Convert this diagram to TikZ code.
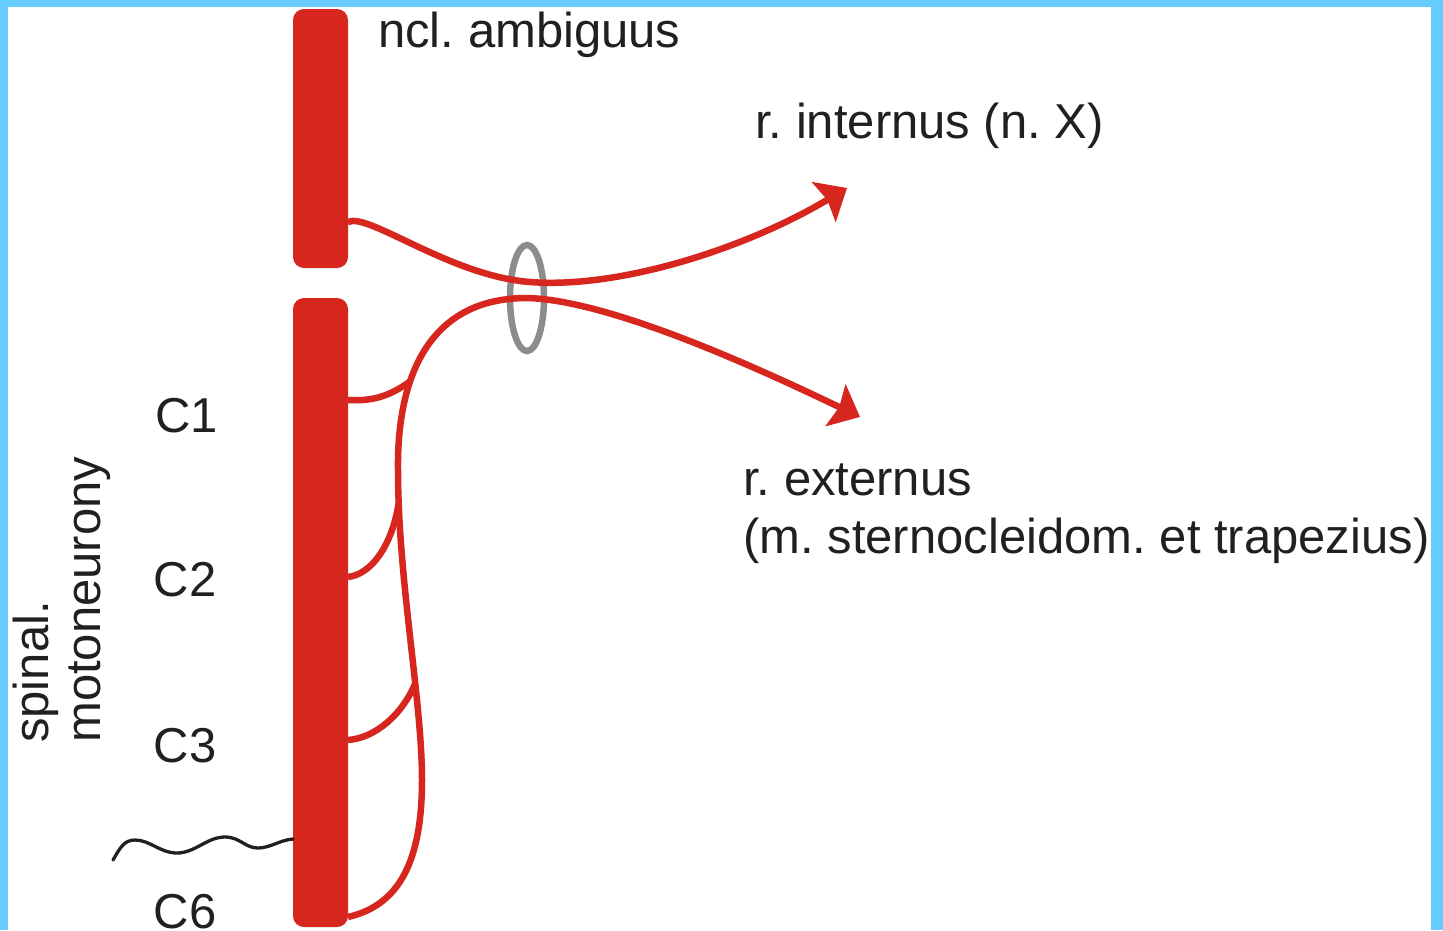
\documentclass[tikz,border=0pt]{standalone}
\usepackage{fontspec}
\setmainfont{Liberation Sans}
\usetikzlibrary{arrows.meta,shapes.geometric}
\definecolor{nred}{HTML}{D7261E}
\definecolor{frameblue}{HTML}{66CCFF}
\definecolor{ringgray}{HTML}{8C8C8C}
\definecolor{txt}{HTML}{231F20}
\frenchspacing
\begin{document}
\begin{tikzpicture}[x=1pt,y=-1pt,
 bar/.style={fill=nred, rounded corners=11pt, minimum width=55pt, inner sep=0pt, draw=none},
 nerve/.style={draw=nred, line width=6.5pt},
 nervearrow/.style={nerve, -{Stealth[length=27pt,width=46pt,inset=4pt]}},
 ringst/.style={ellipse, draw=ringgray, line width=6.5pt, minimum width=34pt, minimum height=106pt, inner sep=0pt},
 lbl/.style={text=txt, font=\fontsize{49}{56}\selectfont, inner sep=0pt},
 wave/.style={draw=txt, line width=3.3pt, line cap=round}]

\useasboundingbox (0,0) rectangle (1443,930);
\fill[white] (0,0) rectangle (1443,930);

% bars
\node[bar, minimum height=259pt] (amb) at (320.5,138.5) {};
\node[bar, minimum height=629pt] (spin) at (320.5,612.5) {};

% ring
\node[ringst] (ring) at (527,298) {};

% coordinates
\coordinate (a1) at (348,222);
\coordinate (ra) at (530,282);
\coordinate (tipI) at (847,188);
\coordinate (c6) at (348,917);
\coordinate (m1) at (422,780);
\coordinate (m2) at (398,470);
\coordinate (rb) at (527,298);
\coordinate (tipE) at (860,417);
\coordinate (b1) at (348,400);
\coordinate (b2) at (348,577);
\coordinate (b3) at (348,740);

% upper nerve (r. internus)
\draw[nerve] (a1) .. controls (368,212) and (450,276) .. (ra);
\draw[nervearrow] (ra) .. controls (620,289) and (747,248) .. (tipI);

% trunk of spinal root
\draw[nerve] (c6) .. controls (400,905) and (422,860) .. (m1)
  .. controls (422,700) and (398,580) .. coordinate[pos=0.35] (j3) coordinate[pos=0.9] (j2) (m2)
  .. controls (397,395) and (418,298) .. coordinate[pos=0.38] (j1) (rb);
\draw[nervearrow] (rb) .. controls (610,300) and (760,369) .. (tipE);

% branches
\draw[nerve] (b1) .. controls (378,402) and (395,392) .. (j1);
\draw[nerve] (b2) .. controls (372,574) and (392,545) .. (j2);
\draw[nerve] (b3) .. controls (375,738) and (402,715) .. (j3);

% wavy line
\coordinate (w0) at (113,860);
\coordinate (w1) at (293,839);
\draw[wave] (w0) .. controls (120,848) and (124,840) .. (135,840)
  .. controls (150,840) and (160,853) .. (177,853)
  .. controls (195,853) and (207,837) .. (225,837)
  .. controls (240,837) and (245,848) .. (258,848)
  .. controls (270,848) and (280,840) .. (w1);

% labels
\node[lbl, anchor=base west] (tamb) at (378,47) {ncl. ambiguus};
\node[lbl, anchor=base west] (tint) at (755,138) {r. internus (n. X)};
\node[lbl, anchor=base west] (text1) at (743,495) {r. externus};
\node[lbl, anchor=base west] (text2) at (743,553) {(m. sternocleidom. et trapezius)};
\node[lbl, anchor=base] (tc1) at (186.5,432) {C1};
\node[lbl, anchor=base] (tc2) at (185,596) {C2};
\node[lbl, anchor=base] (tc3) at (185,762) {C3};
\node[lbl, anchor=base] (tc6) at (185,928) {C6};
\node[lbl, rotate=90, anchor=base west] (tsp) at (48,743) {spinal.};
\node[lbl, rotate=90, anchor=base west] (tmo) at (100,743) {motoneurony};

% frame
\fill[frameblue] (0,0) rectangle (8,930);
\fill[frameblue] (0,0) rectangle (1443,7);
\fill[frameblue] (1431,0) rectangle (1443,930);
\end{tikzpicture}
\end{document}
